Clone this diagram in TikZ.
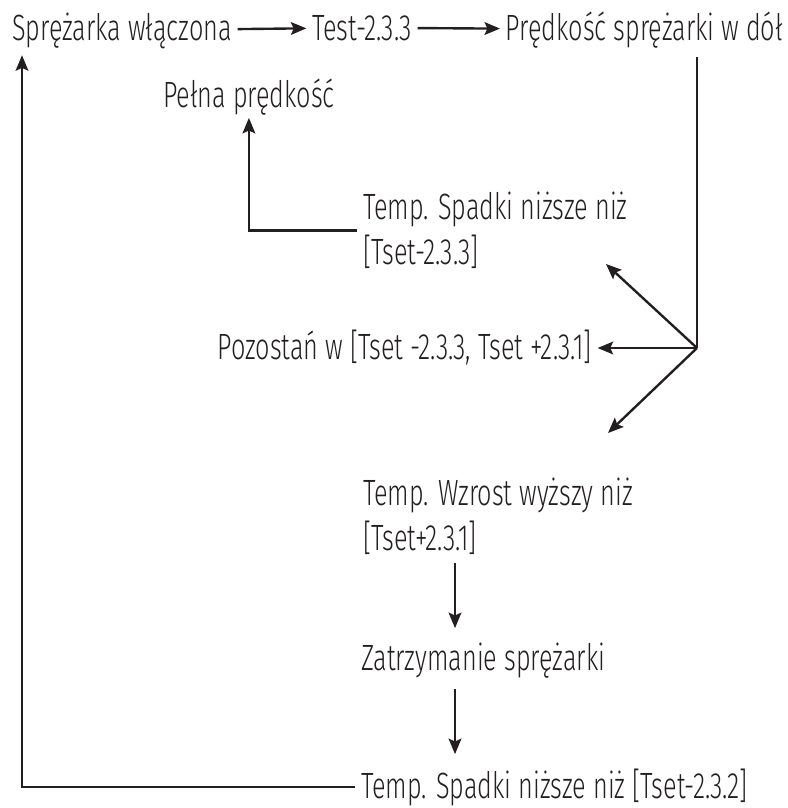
\documentclass[tikz,border=0pt]{standalone}
\usepackage{fontspec}
\setmainfont{Fira Sans}[UprightFont={* Light}, FakeStretch=0.69]
\usepackage{xcolor}
\usetikzlibrary{positioning, arrows.meta, calc}
\definecolor{ink}{RGB}{35,31,32}

\begin{document}
\begin{tikzpicture}[
  txt/.style={font=\fontsize{26}{32}\selectfont, text=ink,
              inner xsep=4pt, inner ysep=2pt, align=left, anchor=base west},
  arr/.style={-{Stealth[length=11pt, width=9pt, inset=2pt]}, line width=1.7pt, draw=ink},
  ln/.style={line width=1.7pt, draw=ink}
]
\useasboundingbox (0,0) rectangle (19.7,-20.2);

% top row
\node[txt] (on)      at (0.16, -1.00)   {Sprężarka włączona};
\node[txt] (test)    at (7.66, -1.00)   {Test-2.3.3};
\node[txt, anchor=base east] (spd) at (19.72,-1.00) {Prędkość sprężarki w dół};
% branches
\node[txt] (full)    at (3.93, -2.675)  {Pełna prędkość};
\node[txt] (fall)    at (8.93, -6.62)   {Temp. Spadki niższe niż\\{}[Tset-2.3.3]};
\node[txt, anchor=base east] (stay) at (14.94,-8.975) {Pozostań w [Tset -2.3.3, Tset +2.3.1]};
\node[txt] (rise)    at (8.93, -13.75)  {Temp. Wzrost wyższy niż\\{}[Tset+2.3.1]};
\node[txt] (stop)    at (8.88, -16.75)  {Zatrzymanie sprężarki};
\node[txt] (restart) at (8.88, -19.95)  {Temp. Spadki niższe niż [Tset-2.3.2]};

\coordinate (j)      at (17.425,-8.70);
\coordinate (upTip)  at (15.15, -6.60);
\coordinate (dnTip)  at (15.20,-10.825);
\coordinate (col)    at (11.375, 0);
\coordinate (back)   at (0.55, -1.38);

\draw[arr] (on) -- (test);
\draw[arr] (test) -- (spd);
\draw[ln]  ($(spd.south -| j)+(0,-0.15)$) -- (j);
\draw[arr] (j) -- (upTip);
\draw[arr] (j) -- (stay.east |- j);
\draw[arr] (j) -- (dnTip);
\draw[arr] (fall.west) -| (full.south);
\draw[arr, shorten <=4pt, shorten >=8pt] (rise.south -| col) -- (stop.north -| col);
\draw[arr, shorten <=6pt, shorten >=8pt] (stop.south -| col) -- (restart.north -| col);
\draw[arr] (restart.west) -| (back);

\end{tikzpicture}
\end{document}
